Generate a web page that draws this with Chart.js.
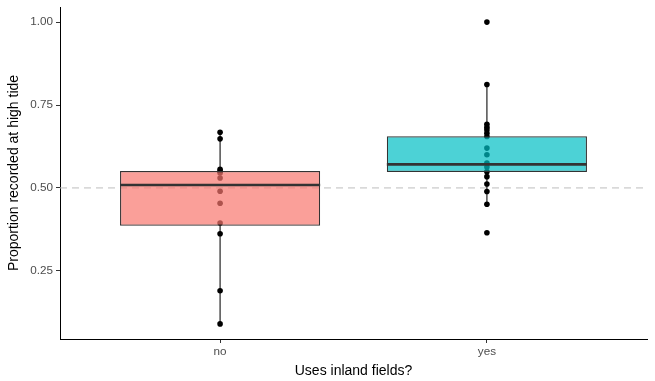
<!DOCTYPE html>
<html>
<head>
<meta charset="utf-8">
<script src="https://cdn.jsdelivr.net/npm/chart.js@4.4.1/dist/chart.umd.min.js"></script>
<style>
  html, body { margin: 0; padding: 0; background: #fff; }
</style>
</head>
<body>
<canvas id="boxChart" width="655" height="381"></canvas>
<script>
// data
const categories = ['no', 'yes'];
const pointsNo = [0.09, 0.19, 0.362, 0.394, 0.454, 0.49, 0.53, 0.545, 0.55, 0.556, 0.648, 0.668];
const pointsYes = [0.365, 0.451, 0.489, 0.512, 0.534, 0.549, 0.563, 0.575, 0.60, 0.62, 0.655, 0.665, 0.675, 0.683, 0.692, 0.812, 1.0];
const whiskerLow = [0.09, 0.451];
const lowerHinge = [0.386, 0.548];
const medians = [0.509, 0.571];
const upperHinge = [0.551, 0.656];
const whiskerHigh = [0.668, 0.812];
const yTicks = [0.25, 0.5, 0.75, 1.0];
const refLine = 0.5;

const fills = ['rgba(248,118,109,0.7)', 'rgba(0,191,196,0.7)'];
const allPoints = [pointsNo, pointsYes];

// ggplot style axis expansion
const lo = Math.min(...pointsNo, ...pointsYes);
const hi = Math.max(...pointsNo, ...pointsYes);
const yPad = (hi - lo) * 0.05;
const xMin = 0.4, xMax = categories.length + 0.6;

Chart.defaults.font.family = '"Liberation Sans", Arial, sans-serif';

// median line across each box
const medianPlugin = {
  id: 'medianLine',
  afterDatasetsDraw(chart) {
    const meta = chart.getDatasetMeta(0);
    const y = chart.scales.y;
    const ctx = chart.ctx;
    ctx.save();
    ctx.strokeStyle = '#333333';
    ctx.lineWidth = 2.6;
    meta.data.forEach((bar, i) => {
      const py = y.getPixelForValue(medians[i]);
      ctx.beginPath();
      ctx.moveTo(bar.x - bar.width / 2, py);
      ctx.lineTo(bar.x + bar.width / 2, py);
      ctx.stroke();
    });
    ctx.restore();
  }
};

const datasets = [];

// boxes (floating bars from lower to upper hinge)
datasets.push({
  type: 'bar',
  data: categories.map((c, i) => ({ x: i + 1, y: [lowerHinge[i], upperHinge[i]] })),
  backgroundColor: fills,
  borderColor: '#333333',
  borderWidth: 1.2,
  borderSkipped: false,
  categoryPercentage: 1,
  barPercentage: 0.75,
  order: 1
});

// raw points
allPoints.forEach((pts, i) => {
  datasets.push({
    type: 'line',
    data: pts.map(v => ({ x: i + 1, y: v })),
    showLine: false,
    pointRadius: 2.8,
    pointBackgroundColor: '#000000',
    pointBorderWidth: 0,
    order: 2
  });
});

// whiskers
categories.forEach((c, i) => {
  [[whiskerLow[i], lowerHinge[i]], [upperHinge[i], whiskerHigh[i]]].forEach(seg => {
    datasets.push({
      type: 'line',
      data: seg.map(v => ({ x: i + 1, y: v })),
      borderColor: '#222222',
      borderWidth: 1.2,
      pointRadius: 0,
      order: 3
    });
  });
});

// dashed reference line
datasets.push({
  type: 'line',
  data: [{ x: xMin, y: refLine }, { x: xMax, y: refLine }],
  borderColor: '#BEBEBE',
  borderWidth: 1,
  borderDash: [7, 5],
  pointRadius: 0,
  order: 4
});

const tickFont = { size: 11.7 };
const titleFont = { size: 14 };

const config = {
  type: 'bar',
  data: { datasets: datasets },
  options: {
    responsive: false,
    animation: false,
    layout: { padding: { top: 7, right: 8, left: 0, bottom: 0 } },
    plugins: { legend: { display: false }, tooltip: { enabled: false } },
    scales: {
      x: {
        type: 'linear',
        min: xMin,
        max: xMax,
        offset: false,
        grid: { drawOnChartArea: false, drawTicks: true, tickLength: 4, color: '#333333', offset: false },
        border: { display: true, color: '#000000', width: 1 },
        afterBuildTicks: scale => { scale.ticks = categories.map((c, i) => ({ value: i + 1 })); },
        afterFit: scale => { scale.height = 42; scale.paddingLeft = 0; scale.paddingRight = 0; },
        ticks: {
          color: '#4D4D4D',
          font: tickFont,
          padding: 2,
          maxRotation: 0,
          autoSkip: false,
          callback: v => categories[v - 1]
        },
        title: { display: true, text: 'Uses inland fields?', color: '#000000', font: titleFont, padding: { top: 0, bottom: 1 } }
      },
      y: {
        min: lo - yPad,
        max: hi + yPad,
        grid: { drawOnChartArea: false, drawTicks: true, tickLength: 4, color: '#333333' },
        border: { display: true, color: '#000000', width: 1 },
        afterBuildTicks: scale => { scale.ticks = yTicks.map(v => ({ value: v })); },
        afterFit: scale => { scale.width = 60; scale.paddingTop = 0; scale.paddingBottom = 0; },
        ticks: {
          color: '#4D4D4D',
          font: tickFont,
          padding: 3,
          callback: v => v.toFixed(2)
        },
        title: { display: true, text: 'Proportion recorded at high tide', color: '#000000', font: titleFont, padding: { top: 6, bottom: 0 } }
      }
    }
  },
  plugins: [medianPlugin]
};

const ctx = document.getElementById('boxChart').getContext('2d');
const boxChart = new Chart(ctx, config);
</script>
</body>
</html>
